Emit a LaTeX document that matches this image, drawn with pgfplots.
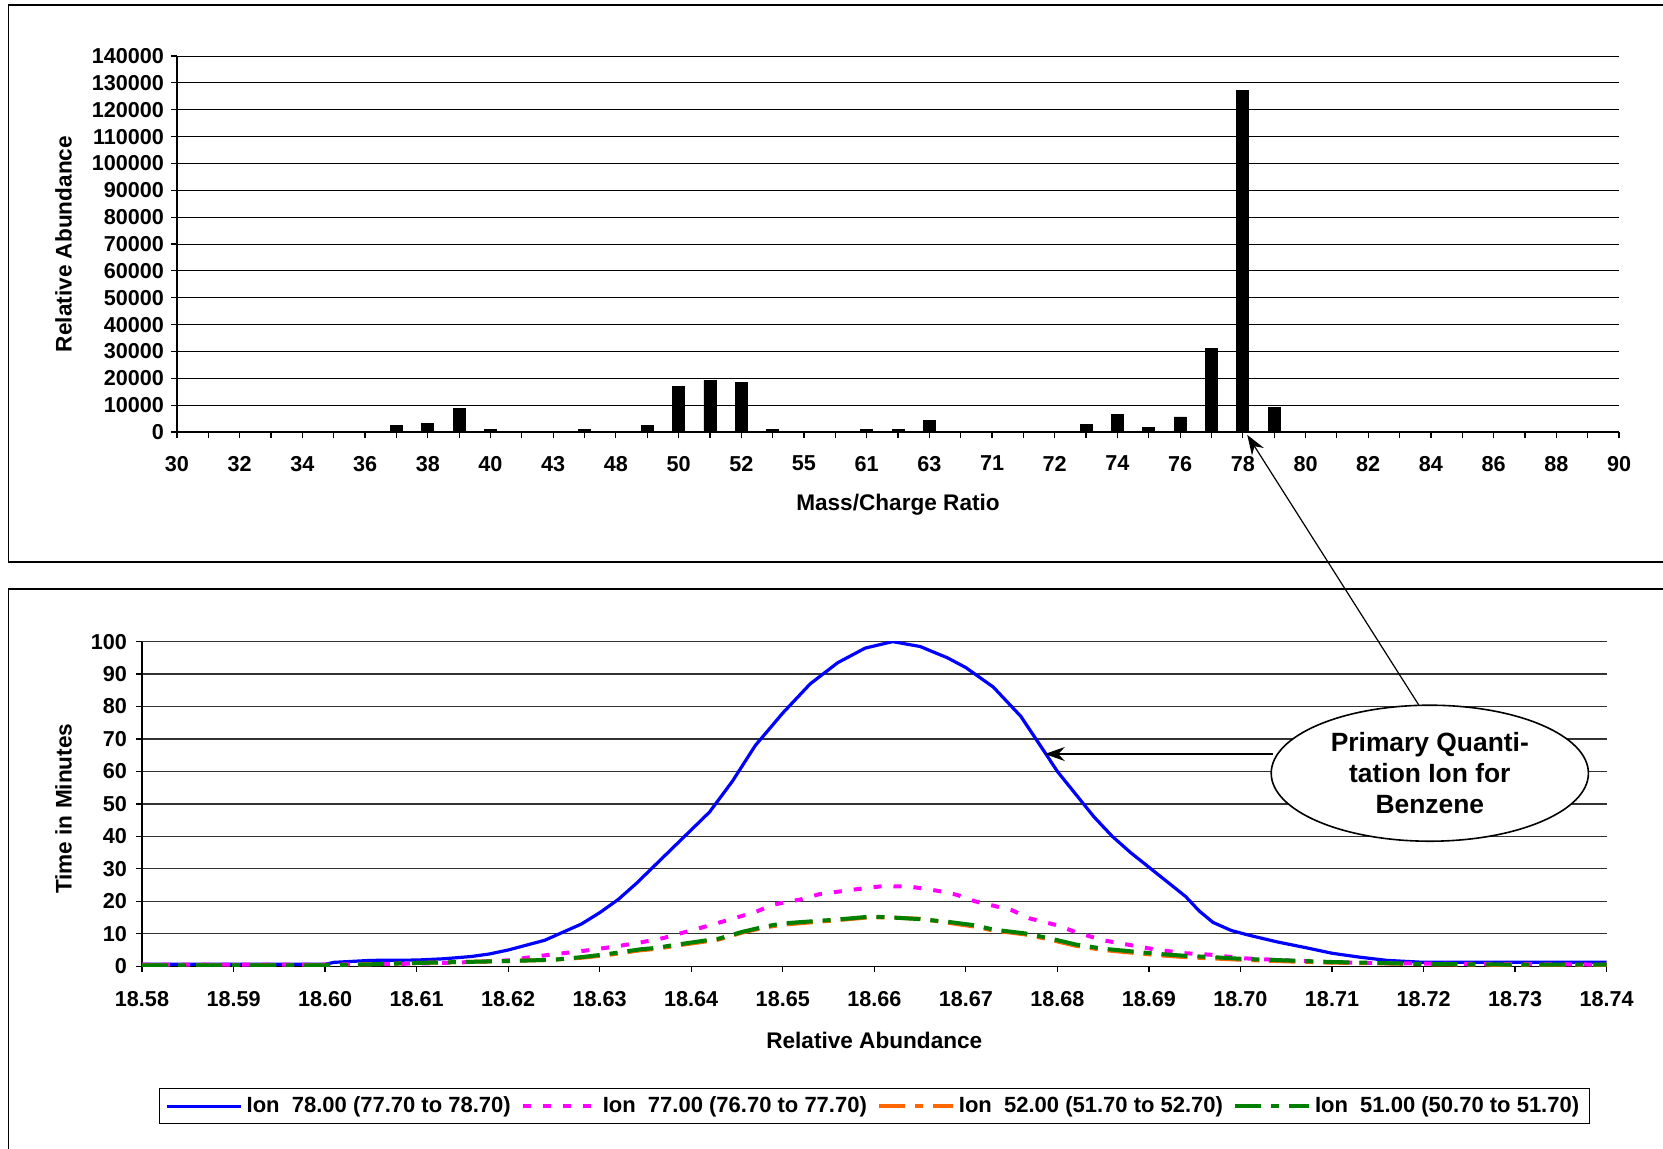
\documentclass[border=0pt]{standalone}
\usepackage{pgfplots}
\pgfplotsset{compat=1.18}
\usepackage{fontspec}
\setmainfont{Liberation Sans}
\usetikzlibrary{arrows.meta}
\definecolor{ionblue}{RGB}{0,0,255}
\definecolor{ionmag}{RGB}{255,0,255}
\definecolor{ionorange}{RGB}{255,102,0}
\definecolor{iongreen}{RGB}{0,128,0}
\newcommand{\tickfont}{\fontsize{10.8}{12}\selectfont\bfseries}
\newcommand{\labfont}{\fontsize{11.3}{13}\selectfont\bfseries}
\begin{document}
\begin{tikzpicture}
\useasboundingbox (0pt,0pt) rectangle (831.5pt,-574pt);
\draw[line width=0.9pt] (4.2pt,-2.65pt) rectangle (840pt,-281pt);
\draw[line width=0.9pt] (4.2pt,-294.3pt) rectangle (840pt,-580pt);

\begin{axis}[
  at={(88.5pt,-216pt)}, anchor=south west, scale only axis,
  width=721pt, height=188pt,
  xmin=0, xmax=46, ymin=0, ymax=140000,
  axis lines=left, axis line style={-, line width=0.6pt},
  xtick={0,...,46},
  xticklabels={30,,32,,34,,36,,38,,40,,43,,48,,50,,52,,55,,61,,63,,71,,72,,74,,76,,78,,80,,82,,84,,86,,88,,90},
  xticklabel style={yshift=-5.5pt},
  ytick={0,10000,20000,30000,40000,50000,60000,70000,80000,90000,100000,110000,120000,130000,140000},
  scaled y ticks=false,
  yticklabel style={/pgf/number format/.cd, fixed, precision=0, 1000 sep={}, assume math mode=true},
  tick label style={font=\tickfont},
  tick align=outside, major tick length=3pt, tick style={black, line width=0.6pt},
  ymajorgrids, major grid style={black, line width=0.5pt},
  xlabel={Mass/Charge Ratio}, ylabel={Relative Abundance},
  label style={font=\labfont},
  xlabel style={at={(axis description cs:0.5,-0.194)}, anchor=center},
  ylabel style={at={(axis description cs:-0.0786,0.5)}, anchor=center},
]
\addplot[ybar, bar width=6pt, fill=black, draw=black] coordinates {
(7,2600) (8,3300) (9,8800) (10,1000) (13,1000) (15,2600) (16,17000) (17,19200)
(18,18500) (19,1000) (22,1000) (23,1000) (24,4200) (29,2700) (30,6400) (31,1700)
(32,5600) (33,31000) (34,127300) (35,9300)
};
\end{axis}

\begin{axis}[
  at={(71pt,-483.1pt)}, anchor=south west, scale only axis,
  width=732.3pt, height=162.3pt,
  xmin=18.58, xmax=18.74, ymin=0, ymax=100,
  axis lines=left, axis line style={-, line width=0.6pt},
  xtick={18.58,18.59,18.60,18.61,18.62,18.63,18.64,18.65,18.66,18.67,18.68,18.69,18.70,18.71,18.72,18.73,18.74},
  xticklabel style={yshift=-6pt, /pgf/number format/.cd, fixed, fixed zerofill, precision=2, assume math mode=true},
  ytick={0,10,...,100},
  yticklabel style={xshift=-1pt, /pgf/number format/.cd, fixed, precision=0, assume math mode=true},
  tick label style={font=\tickfont},
  tick align=outside, major tick length=3pt, tick style={black, line width=0.6pt},
  ymajorgrids, major grid style={black!80, line width=0.6pt},
  xlabel={Relative Abundance}, ylabel={Time in Minutes},
  label style={font=\labfont},
  xlabel style={at={(axis description cs:0.5,-0.2286)}, anchor=center},
  ylabel style={at={(axis description cs:-0.0535,0.485)}, anchor=center},
  legend style={at={(0.5,-0.431)}, anchor=center, legend columns=4, draw=black,
    font=\fontsize{11}{13}\selectfont\bfseries,
    /tikz/every even column/.append style={column sep=3pt}},
  legend cell align=left,
  legend image code/.code={\draw[#1] (0pt,0pt) -- (37pt,0pt);},
]
\addplot[ionblue, line width=1.6pt] coordinates {
(18.580,0.6)(18.590,0.6)(18.600,0.6)(18.601,1.2)(18.605,1.8)(18.610,1.9)(18.613,2.3)
(18.616,3.0)(18.618,3.8)(18.620,5.0)(18.622,6.5)(18.624,8.0)(18.626,10.5)(18.628,13.0)
(18.630,16.5)(18.632,20.5)(18.634,25.5)(18.636,31)(18.638,36.5)(18.640,42)(18.642,47.5)
(18.6445,57)(18.647,68)(18.650,78)(18.653,87)(18.656,93.5)(18.659,98)(18.662,100)
(18.665,98.5)(18.668,95)(18.670,92)(18.673,86)(18.676,77)(18.6786,66)(18.680,60)
(18.682,53)(18.684,46)(18.686,40)(18.688,35)(18.690,30.5)(18.692,26)(18.694,21.5)
(18.6955,17)(18.697,13.5)(18.699,11)(18.701,9.5)(18.704,7.5)(18.707,5.8)(18.710,4.0)
(18.713,2.8)(18.716,1.8)(18.720,1.2)(18.730,1.2)(18.740,1.2)
};
\addlegendentry{Ion\ \ 78.00 (77.70 to 78.70)}
\addplot[ionmag, line width=2pt, dash pattern=on 4pt off 6pt] coordinates {
(18.580,0.5)(18.600,0.5)(18.610,0.8)(18.615,1.2)(18.620,1.8)(18.623,3)(18.626,4)
(18.629,5)(18.632,6.2)(18.6346,7.4)(18.637,8.7)(18.638,9.5)(18.641,11.8)(18.644,14.2)
(18.647,16.7)(18.649,19)(18.652,20.6)(18.654,22.2)(18.658,23.7)(18.661,24.7)(18.664,24.5)
(18.667,23.2)(18.669,22)(18.671,20)(18.675,17.3)(18.677,14.7)(18.680,12.6)(18.682,10.5)
(18.685,8)(18.688,6.5)(18.691,5)(18.694,4)(18.697,3.5)(18.700,2.5)(18.705,1.8)
(18.710,1.2)(18.715,1)(18.720,0.8)(18.740,0.5)
};
\addlegendentry{Ion\ \ 77.00 (76.70 to 77.70)}
\addplot[ionorange, line width=2pt, dash pattern=on 13pt off 5pt on 4pt off 5pt] coordinates {
(18.580,0.3)(18.600,0.3)(18.605,0.6)(18.610,1.0)(18.615,1.3)(18.620,1.6)(18.625,2.0)
(18.628,2.6)(18.631,3.5)(18.6344,4.9)(18.636,5.3)(18.639,6.6)(18.643,8.2)(18.6456,10.4)
(18.648,11.9)(18.650,12.8)(18.653,13.5)(18.656,14.2)(18.6596,15.1)(18.662,15)(18.665,14.6)
(18.668,13.4)(18.671,12.2)(18.673,11.0)(18.6765,9.8)(18.679,8.3)(18.682,6.3)(18.685,5.0)
(18.688,4.2)(18.691,3.4)(18.694,2.8)(18.697,2.4)(18.700,2.0)(18.705,1.5)(18.710,1.1)
(18.715,0.9)(18.720,0.6)(18.730,0.4)(18.740,0.4)
};
\addlegendentry{Ion\ \ 52.00 (51.70 to 52.70)}
\addplot[iongreen, line width=2pt, dash pattern=on 13pt off 5pt on 4pt off 5pt] coordinates {
(18.580,0.3)(18.600,0.3)(18.605,0.6)(18.610,1.0)(18.615,1.3)(18.620,1.6)(18.625,2.0)
(18.628,2.8)(18.631,3.8)(18.6344,5.2)(18.636,5.6)(18.639,6.9)(18.643,8.5)(18.6456,10.6)
(18.648,12.2)(18.650,13.2)(18.653,13.8)(18.656,14.4)(18.6596,15.3)(18.662,15)(18.665,14.5)
(18.668,13.7)(18.671,12.6)(18.673,11.3)(18.6765,10.1)(18.679,8.7)(18.682,6.7)(18.685,5.4)
(18.688,4.6)(18.691,3.8)(18.694,3.2)(18.697,2.8)(18.700,2.3)(18.705,1.8)(18.710,1.3)
(18.715,1.0)(18.720,0.7)(18.730,0.5)(18.740,0.5)
};
\addlegendentry{Ion\ \ 51.00 (50.70 to 51.70)}
\end{axis}

\draw[line width=0.6pt, -{Stealth[length=10pt,width=7pt]}] (709.5pt,-352.7pt) -- (623.6pt,-217.4pt);
\draw[fill=white, line width=0.8pt] (714.9pt,-386.6pt) ellipse [x radius=79.3pt, y radius=34pt];
\node[align=center, font=\fontsize{13.2}{15.6}\selectfont\bfseries] at (714.9pt,-386.6pt) {Primary Quanti-\\tation Ion for\\Benzene};
\draw[line width=0.6pt, -{Stealth[length=10pt,width=7pt]}] (636.4pt,-377pt) -- (522.4pt,-377pt);
\end{tikzpicture}
\end{document}
